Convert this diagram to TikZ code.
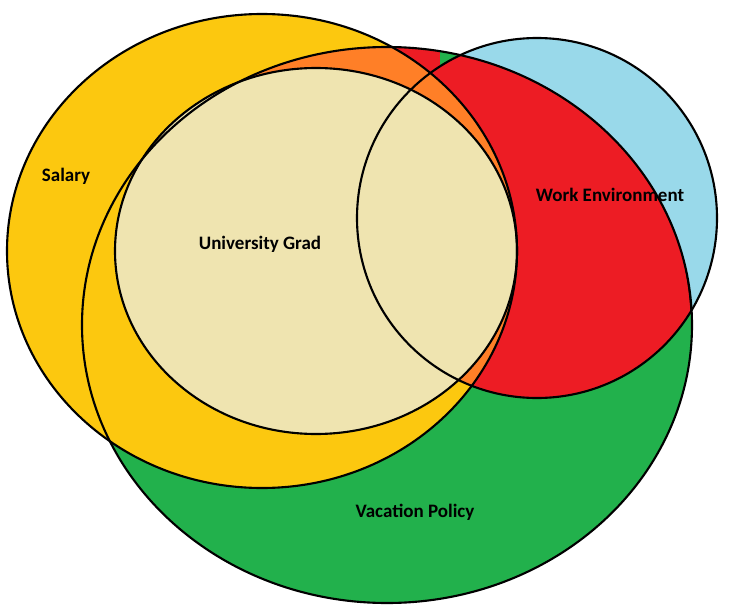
\documentclass[tikz,border=0pt]{standalone}
\usepackage{fontspec}
\setmainfont{Carlito}
\definecolor{salaryyellow}{HTML}{FCC80F}
\definecolor{vacgreen}{HTML}{22B14C}
\definecolor{workblue}{HTML}{99D9EA}
\definecolor{workred}{HTML}{ED1C24}
\definecolor{mixorange}{HTML}{FF7F27}
\definecolor{gradbeige}{HTML}{EFE4B0}
\tikzset{
  outline/.style={draw=black,line width=0.6pt},
  label/.style={font=\fontsize{5.4}{6}\selectfont\bfseries,inner sep=0pt}
}
\newcommand{\salarypath}{(262,251) ellipse [x radius=255,y radius=237]}
\newcommand{\vacpath}{(387,325) ellipse [x radius=305,y radius=278]}
\newcommand{\workpath}{(537,218) circle [radius=180]}
\newcommand{\redpath}{(440,330) ellipse [x radius=252,y radius=282]}
\newcommand{\gradpath}{(316,251) ellipse [x radius=201,y radius=183]}
\newcommand{\redfill}[1]{%
  \begin{scope}\clip \vacpath;
    \begin{scope}\clip \workpath; \fill[#1] \redpath; \end{scope}
    \fill[#1] (200,0) rectangle (440,330);
  \end{scope}}
\begin{document}
\begin{tikzpicture}[x=0.01cm,y=-0.01cm]
\useasboundingbox (0,0) rectangle (730,612);
% filled regions
\fill[vacgreen] \vacpath;
\fill[workblue] \workpath;
\redfill{workred}
\fill[salaryyellow] \salarypath;
\begin{scope}
  \clip \salarypath;
  \redfill{mixorange}
\end{scope}
\fill[gradbeige] \gradpath;

% outlines
\draw[outline] \vacpath;
\draw[outline] \workpath;
\draw[outline] \salarypath;
\draw[outline] \gradpath;
\begin{scope}
  \clip \vacpath; \clip \workpath;
  \draw[outline] \redpath;
\end{scope}

% labels
\node[label] (salary) at (66,176) {Salary};
\node[label] (grad) at (260,244) {University Grad};
\node[label] (work) at (610,195) {Work Environment};
\node[label] (vacation) at (415,512) {Vacation Policy};
\end{tikzpicture}
\end{document}
